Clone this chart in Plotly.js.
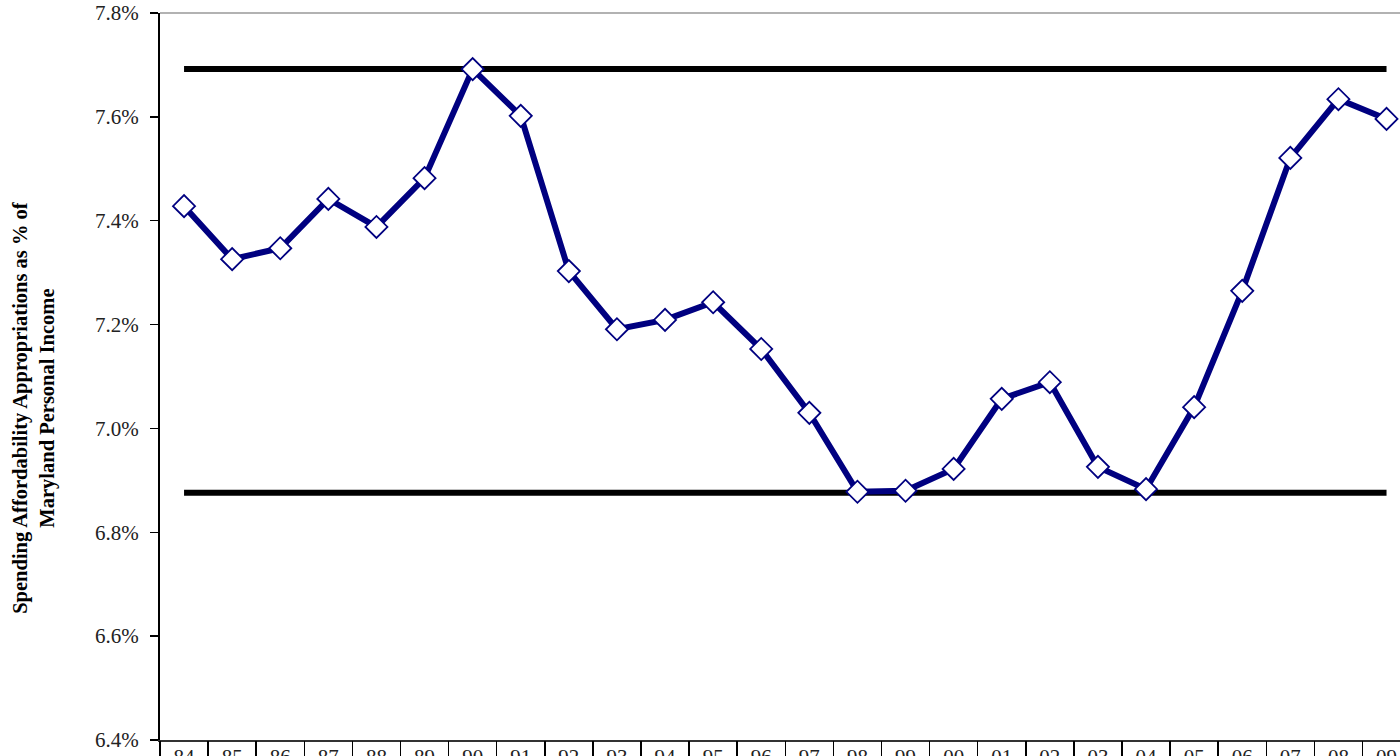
<!DOCTYPE html>
<html>
<head>
<meta charset="utf-8">
<script src="https://cdn.plot.ly/plotly-3.0.1.min.js"></script>
<style>html,body{margin:0;padding:0;background:#fff;overflow:hidden}#chart{width:1400px;height:756px}</style>
</head>
<body>
<div id="chart"></div>
<script>
// Fiscal years (two-digit labels)
const yearLabels = ["84","85","86","87","88","89","90","91","92","93","94","95","96","97","98","99","00","01","02","03","04","05","06","07","08","09"];
// Spending affordability appropriations as % of Maryland personal income
const appropPct = [7.428,7.326,7.347,7.442,7.388,7.482,7.692,7.602,7.303,7.191,7.209,7.243,7.153,7.030,6.878,6.880,6.922,7.057,7.089,6.926,6.883,7.041,7.265,7.521,7.634,7.596];
// Upper and lower reference lines
const upperBound = 7.692;
const lowerBound = 6.876;
// Y axis ticks
const yTickVals = [6.4,6.6,6.8,7.0,7.2,7.4,7.6,7.8];

const idx = yearLabels.map((_, i) => i);
const first = idx[0], last = idx[idx.length - 1];
const boundaries = yearLabels.concat([""]).map((_, i) => i - 0.5);
const xRange = [-0.5, 25.28];

const traces = [
  {x:[first,last], y:[upperBound,upperBound], mode:'lines', line:{color:'#000', width:6}, hoverinfo:'skip', showlegend:false},
  {x:[first,last], y:[lowerBound,lowerBound], mode:'lines', line:{color:'#000', width:6}, hoverinfo:'skip', showlegend:false},
  {x:idx, y:appropPct, mode:'lines+markers',
   line:{color:'#000080', width:6},
   marker:{symbol:'diamond', size:17, color:'#fff', line:{color:'#000080', width:1.8}},
   showlegend:false},
  {x:[first], y:[appropPct[0]], xaxis:'x2', mode:'markers', marker:{opacity:0}, hoverinfo:'skip', showlegend:false}
];

const serif = 'Liberation Serif, Times New Roman, serif';
const layout = {
  width:1400, height:756,
  margin:{l:160, r:0, t:13, b:16},
  paper_bgcolor:'#fff', plot_bgcolor:'#fff',
  font:{family:serif, color:'#222'},
  showlegend:false,
  xaxis:{
    range:xRange, tickmode:'array', tickvals:idx, ticktext:yearLabels,
    ticks:'', showgrid:false, zeroline:false,
    showline:true, linecolor:'#333', linewidth:2,
    tickfont:{family:serif, size:21, color:'#222'},
    ticklabelstandoff:-3
  },
  xaxis2:{
    overlaying:'x', anchor:'y', side:'bottom', range:xRange,
    tickmode:'array', tickvals:boundaries, showticklabels:false,
    ticks:'outside', ticklen:30, tickwidth:1.5, tickcolor:'#000',
    showgrid:false, zeroline:false, showline:false
  },
  yaxis:{
    range:[6.4,7.8], tickmode:'array', tickvals:yTickVals,
    ticktext:yTickVals.map(v => v.toFixed(1) + '%'),
    ticks:'outside', ticklen:8, tickwidth:1.5, tickcolor:'#000',
    showgrid:false, zeroline:false,
    showline:true, linecolor:'#000', linewidth:2,
    tickfont:{family:serif, size:21, color:'#222'},
    ticklabelstandoff:7
  },
  shapes:[
    {type:'line', xref:'paper', yref:'paper', x0:0, x1:1, y0:1, y1:1, line:{color:'#999', width:1.5}}
  ],
  annotations:[
    {text:'<b>Spending Affordability Appropriations as % of<br>Maryland Personal Income</b>',
     xref:'paper', yref:'paper', x:-0.1016, y:0.457, xanchor:'center', yanchor:'middle',
     textangle:-90, showarrow:false, font:{family:serif, size:20.5, color:'#000'}}
  ]
};

Plotly.newPlot('chart', traces, layout, {displayModeBar:false, staticPlot:true});
</script>
</body>
</html>
